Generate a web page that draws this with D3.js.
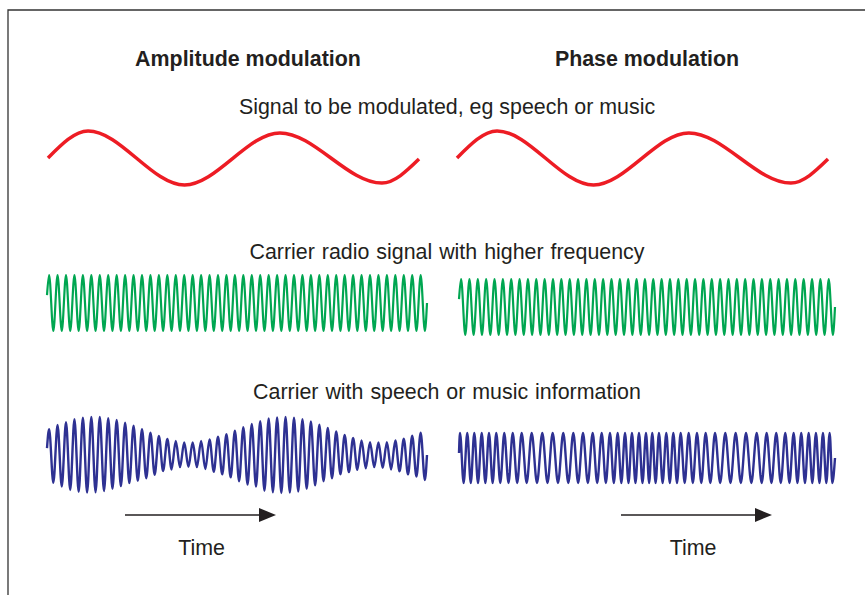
<!DOCTYPE html>
<html>
<head>
<meta charset="utf-8">
<script src="https://cdn.jsdelivr.net/npm/d3@7"></script>
<style>
  body { margin: 0; background: #fff; }
  text { font-family: "Liberation Sans", Arial, sans-serif; fill: #231f20; }
</style>
</head>
<body>
<svg id="chart"></svg>
<script>
// modulating signal: turning points (fraction of the time span, level)
const signalTimes = [0, 0.108, 0.368, 0.625, 0.9, 1];
const signalLevels = [0, 1, -1, 0.93, -0.93, -0.04];

// carrier: full cycles across each panel
const carrierCycles = 45;

// AM wave: swing of each crest and each trough (fraction of the largest swing)
const amCrests = [
  0.68, 0.79, 0.86, 0.94, 0.98, 1, 1, 0.97, 0.92, 0.85,
  0.77, 0.68, 0.59, 0.5, 0.42, 0.37, 0.33, 0.33, 0.37, 0.41,
  0.48, 0.55, 0.64, 0.73, 0.82, 0.89, 0.96, 0.99, 1, 0.98,
  0.94, 0.88, 0.8, 0.71, 0.62, 0.53, 0.45, 0.38, 0.34, 0.33,
  0.34, 0.38, 0.43, 0.51, 0.59,
];
const amTroughs = [
  0.73, 0.83, 0.92, 0.97, 0.99, 0.98, 0.95, 0.89, 0.82, 0.74,
  0.68, 0.61, 0.52, 0.42, 0.38, 0.32, 0.31, 0.32, 0.37, 0.44,
  0.51, 0.59, 0.69, 0.78, 0.83, 0.94, 0.98, 1, 0.99, 0.96,
  0.89, 0.8, 0.69, 0.61, 0.51, 0.45, 0.39, 0.35, 0.32, 0.34,
  0.38, 0.43, 0.51, 0.57, 0.66,
];

// PM wave: crest positions, in carrier cycles from the left end
const pmCrests = [
  0.12, 0.99, 1.83, 2.72, 3.59, 4.46, 5.42, 6.43, 7.5, 8.7,
  9.97, 11.21, 12.48, 13.68, 14.84, 16.0, 17.08, 18.07, 18.99, 19.87,
  20.7, 21.54, 22.38, 23.13, 23.93, 24.81, 25.65, 26.53, 27.49, 28.48,
  29.52, 30.64, 31.87, 33.11, 34.35, 35.63, 36.82, 37.97, 39.05, 40.05,
  40.96, 41.85, 42.72, 43.56, 44.36,
];

const panelTitles = ["Amplitude modulation", "Phase modulation"];
const rowLabels = [
  "Signal to be modulated, eg speech or music",
  "Carrier radio signal with higher frequency",
  "Carrier with speech or music information",
];
const timeLabel = "Time";

const w = 865;
const h = 595;

const svg = d3.select("#chart").attr("width", w).attr("height", h);

// frame (only top and left edges are visible)
svg.append("path")
  .attr("d", "M8,595 V10 H865")
  .attr("fill", "none")
  .attr("stroke", "#333")
  .attr("stroke-width", 1.3);

// titles and labels
svg.selectAll(".title")
  .data(panelTitles)
  .enter()
  .append("text")
  .attr("class", "title")
  .attr("x", (d, i) => [248, 647][i])
  .attr("y", 66)
  .attr("text-anchor", "middle")
  .style("font-size", "21.4px")
  .style("font-weight", "bold")
  .text((d) => d);

svg.selectAll(".row-label")
  .data(rowLabels)
  .enter()
  .append("text")
  .attr("class", "row-label")
  .attr("x", 447)
  .attr("y", (d, i) => [114, 259, 399][i])
  .attr("text-anchor", "middle")
  .style("font-size", "21.4px")
  .style("word-spacing", (d, i) => (i === 0 ? "0px" : "1px"))
  .text((d) => d);

const line = d3.line()
  .x((d) => d[0])
  .y((d) => d[1])
  .curve(d3.curveMonotoneX);

const drawWave = (points, xScale, yScale, color, width) => {
  svg.append("path")
    .attr("d", line(points.map((p) => [xScale(p[0]), yScale(p[1])])))
    .attr("fill", "none")
    .attr("stroke", color)
    .attr("stroke-width", width)
    .attr("stroke-linejoin", "round");
};

// panels
const panels = [
  { signalX: [48, 419], waveX: [47, 427], carrierMid: 303, bottomMid: 455, bottomAmp: 38, arrow: [125, 276], timeX: 201.5 },
  { signalX: [457, 828], waveX: [459, 835], carrierMid: 307, bottomMid: 458, bottomAmp: 25, arrow: [621, 772], timeX: 693 },
];

const signalPoints = signalTimes.map((t, i) => [t, signalLevels[i]]);

const carrierPoints = [[0, 0.28]];
d3.range(carrierCycles).forEach((i) => {
  carrierPoints.push([i + 0.25, 1]);
  carrierPoints.push([i + 0.75, -1]);
});
carrierPoints.push([carrierCycles, 0]);

const amPoints = [[0, 0.18]];
amCrests.forEach((a, i) => {
  amPoints.push([i + 0.25, a]);
  amPoints.push([i + 0.75, -amTroughs[i]]);
});
amPoints.push([carrierCycles, 0]);

const pmPoints = [[0, 0.2]];
pmCrests.forEach((c, i) => {
  const next = i < pmCrests.length - 1 ? pmCrests[i + 1] : carrierCycles;
  pmPoints.push([c, 1]);
  pmPoints.push([(c + next) / 2, -1]);
});
pmPoints.push([carrierCycles, 0]);

panels.forEach((p, k) => {
  const sx = d3.scaleLinear().domain([0, 1]).range(p.signalX);
  const sy = d3.scaleLinear().domain([-1, 1]).range([185, 131]);
  drawWave(signalPoints, sx, sy, "#ed1c24", 3.5);

  const cx = d3.scaleLinear().domain([0, carrierCycles]).range(p.waveX);
  const cy = d3.scaleLinear().domain([-1, 1]).range([p.carrierMid + 28, p.carrierMid - 28]);
  drawWave(carrierPoints, cx, cy, "#00a651", 2.2);

  const by = d3.scaleLinear().domain([-1, 1]).range([p.bottomMid + p.bottomAmp, p.bottomMid - p.bottomAmp]);
  drawWave(k === 0 ? amPoints : pmPoints, cx, by, "#2e3192", 2.4);

  // time arrow
  svg.append("line")
    .attr("x1", p.arrow[0])
    .attr("x2", p.arrow[1] - 12)
    .attr("y1", 515)
    .attr("y2", 515)
    .attr("stroke", "#231f20")
    .attr("stroke-width", 1.4);
  svg.append("path")
    .attr("d", `M${p.arrow[1]},515 L${p.arrow[1] - 17},508 L${p.arrow[1] - 17},522 Z`)
    .attr("fill", "#231f20");

  svg.append("text")
    .attr("x", p.timeX)
    .attr("y", 555)
    .attr("text-anchor", "middle")
    .style("font-size", "21.4px")
    .text(timeLabel);
});
</script>
</body>
</html>
